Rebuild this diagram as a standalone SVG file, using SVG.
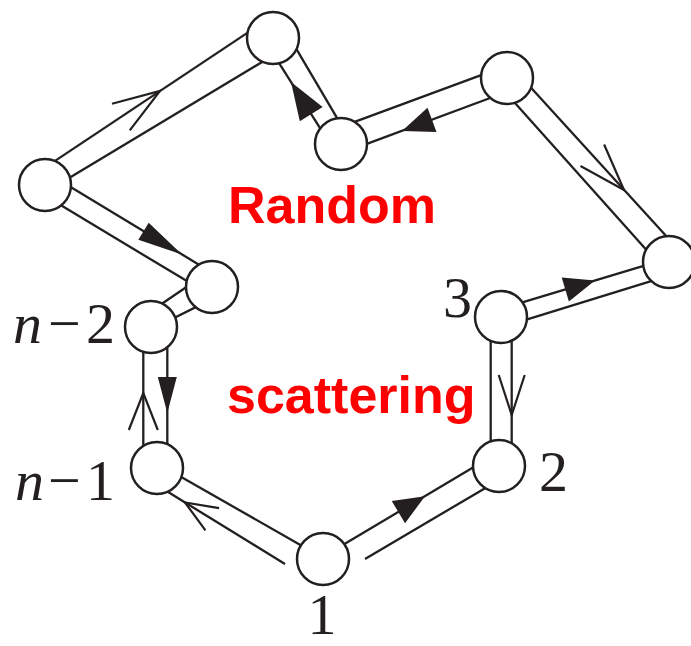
<svg xmlns="http://www.w3.org/2000/svg" width="691" height="646" viewBox="0 0 691 646">
  <style>
    .ln { stroke: #231f20; stroke-width: 2.3; fill: none; stroke-linecap: butt; }
    .chev { stroke: #231f20; stroke-width: 2.2; fill: none; stroke-linejoin: miter; }
    .tri { fill: #231f20; stroke: none; }
    .node { fill: #ffffff; stroke: #231f20; stroke-width: 2.5; }
    .lbl { font-family: "Liberation Serif", "Times New Roman", serif; font-size: 58px; fill: #231f20; }
    .red { font-family: "Liberation Sans", Arial, sans-serif; font-weight: bold; font-size: 52px; fill: #ff0000; }
  </style>
  <rect width="691" height="646" fill="#ffffff"/>
  <g id="connectors">
    <!-- edge N11-N1 -->
    <line class="ln" x1="48.3" y1="165.4" x2="253.7" y2="28.6"/>
    <line class="ln" x1="64.1" y1="181.1" x2="268.9" y2="57.9"/>
    <path class="chev" d="M-47,-16 L0,0 L-47,16" transform="translate(160,91) rotate(-33.7)"/>
    <!-- edge N1-N2 -->
    <line class="ln" x1="274.7" y1="56.2" x2="324.3" y2="134.8"/>
    <line class="ln" x1="292.9" y1="43.1" x2="341.1" y2="124.9"/>
    <path class="tri" d="M0,0 L-38,-13.5 L-38,13.5 Z" transform="translate(291,82) rotate(-122.2)"/>
    <!-- edge N2-N3 -->
    <line class="ln" x1="349.2" y1="123.8" x2="489.2" y2="72.2"/>
    <line class="ln" x1="360.8" y1="146.1" x2="494.2" y2="96.5"/>
    <path class="tri" d="M0,0 L-32,-13 L-32,13 Z" transform="translate(402,131) rotate(159.6)"/>
    <!-- edge N3-N4 -->
    <line class="ln" x1="527.6" y1="84.1" x2="672.1" y2="242.6"/>
    <line class="ln" x1="511.4" y1="99" x2="650.3" y2="254.3"/>
    <path class="chev" d="M-47,-16 L0,0 L-47,16" transform="translate(624,190) rotate(47.6)"/>
    <!-- edge N5-N4 -->
    <line class="ln" x1="519" y1="303.3" x2="652.7" y2="263.2"/>
    <line class="ln" x1="522.4" y1="320.9" x2="657.6" y2="279.1"/>
    <path class="tri" d="M0,0 L-31,-12.5 L-31,12.5 Z" transform="translate(595,280.5) rotate(-16.7)"/>
    <!-- edge N5-N6 -->
    <line class="ln" x1="490.7" y1="334" x2="490.7" y2="449"/>
    <line class="ln" x1="511.7" y1="334" x2="511.7" y2="451"/>
    <path class="chev" d="M-40,-13 L0,0 L-40,13" transform="translate(511.7,415) rotate(90)"/>
    <!-- edge N7-N6 -->
    <line class="ln" x1="341.1" y1="546.1" x2="478.9" y2="463.9"/>
    <line class="ln" x1="365" y1="559" x2="488.9" y2="485.9"/>
    <path class="tri" d="M0,0 L-31,-13 L-31,13 Z" transform="translate(425,496.2) rotate(-30.8)"/>
    <!-- edge N7-N8 -->
    <line class="ln" x1="303.9" y1="547" x2="176" y2="474"/>
    <line class="ln" x1="285" y1="564" x2="161.2" y2="487.8"/>
    <path class="chev" d="M-32,-13 L0,0 L-32,13" transform="translate(185,502.5) rotate(-148.4)"/>
    <!-- edge N8-N9 -->
    <line class="ln" x1="143.3" y1="345" x2="143.3" y2="452"/>
    <line class="ln" x1="167.3" y1="343" x2="167.3" y2="450"/>
    <path class="tri" d="M0,0 L-36,-9.5 L-36,9.5 Z" transform="translate(167.3,413) rotate(90)"/>
    <path class="chev" d="M-37,-14.5 L0,0 L-37,14.5" transform="translate(143.3,393) rotate(-90)"/>
    <!-- edge N9-N10 -->
    <line class="ln" x1="153.4" y1="309.5" x2="191.6" y2="283.5"/>
    <line class="ln" x1="169.5" y1="320.3" x2="203.9" y2="303.1"/>
    <!-- edge N10-N11 -->
    <line class="ln" x1="63.2" y1="182.6" x2="203.5" y2="267.4"/>
    <line class="ln" x1="56.4" y1="202.6" x2="191.9" y2="284.1"/>
    <path class="tri" d="M0,0 L-45,-10 L-45,10 Z" transform="translate(182,254.5) rotate(31.2)"/>
  </g>
  <g id="node-top">
    <circle class="node" cx="273" cy="38" r="26"/>
  </g>
  <g id="node-a">
    <circle class="node" cx="341" cy="144" r="26"/>
  </g>
  <g id="node-b">
    <circle class="node" cx="507" cy="78" r="26"/>
  </g>
  <g id="node-c">
    <circle class="node" cx="669" cy="262" r="26"/>
  </g>
  <g id="node-3">
    <circle class="node" cx="501" cy="317" r="26"/>
    <text class="lbl" x="443" y="317">3</text>
  </g>
  <g id="node-2">
    <circle class="node" cx="499" cy="466" r="26"/>
    <text class="lbl" x="539" y="491">2</text>
  </g>
  <g id="node-1">
    <circle class="node" cx="323" cy="559" r="26"/>
    <text class="lbl" x="322" y="634" text-anchor="middle" font-size="56">1</text>
  </g>
  <g id="node-n-1">
    <circle class="node" cx="157" cy="468" r="26"/>
    <text class="lbl" y="500"><tspan x="15" font-style="italic">n</tspan><tspan x="48">−</tspan><tspan x="86">1</tspan></text>
  </g>
  <g id="node-n-2">
    <circle class="node" cx="151" cy="327" r="26"/>
    <text class="lbl" y="343"><tspan x="13" font-style="italic">n</tspan><tspan x="48">−</tspan><tspan x="86">2</tspan></text>
  </g>
  <g id="node-d">
    <circle class="node" cx="212" cy="287" r="26"/>
  </g>
  <g id="node-e">
    <circle class="node" cx="45" cy="185" r="26"/>
  </g>
  <g id="title">
    <text class="red" x="228" y="223">Random</text>
    <text class="red" x="227" y="413">scattering</text>
  </g>
</svg>
